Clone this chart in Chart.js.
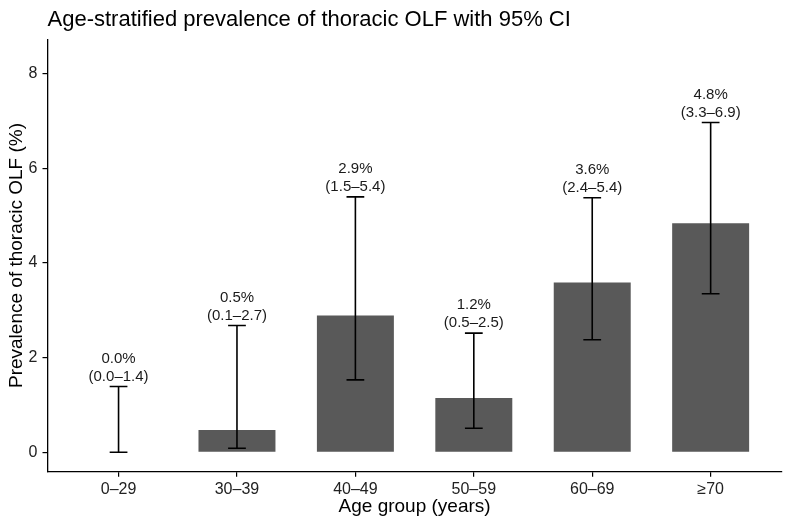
<!DOCTYPE html>
<html>
<head>
<meta charset="utf-8">
<script src="https://cdn.jsdelivr.net/npm/chart.js@4.4.1/dist/chart.umd.min.js"></script>
<style>
  html, body { margin: 0; padding: 0; background: #ffffff; }
  #wrap { width: 791px; height: 528px; position: relative; }
</style>
</head>
<body>
<div id="wrap"><canvas id="c" width="791" height="528"></canvas></div>
<script>
const categories = ['0–29', '30–39', '40–49', '50–59', '60–69', '≥70'];
const prevalence = [0.0, 0.47, 2.89, 1.15, 3.59, 4.84];
const ciLower = [0.0, 0.085, 1.53, 0.51, 2.38, 3.35];
const ciUpper = [1.39, 2.68, 5.40, 2.52, 5.38, 6.97];
const pctLabels = ['0.0%', '0.5%', '2.9%', '1.2%', '3.6%', '4.8%'];
const ciLabels = ['(0.0–1.4)', '(0.1–2.7)', '(1.5–5.4)', '(0.5–2.5)', '(2.4–5.4)', '(3.3–6.9)'];
const yTicks = [0, 2, 4, 6, 8];
const titleText = 'Age-stratified prevalence of thoracic OLF with 95% CI';
const xTitle = 'Age group (years)';
const yTitle = 'Prevalence of thoracic OLF (%)';

const FONT = '"Liberation Sans", Arial, "DejaVu Sans", sans-serif';

const errorBarPlugin = {
  id: 'errorBars',
  afterDatasetsDraw(chart) {
    const ctx = chart.ctx;
    const xs = chart.scales.x, ys = chart.scales.y;
    ctx.save();
    ctx.strokeStyle = '#000000';
    ctx.lineWidth = 1.6;
    ctx.lineCap = 'butt';
    for (let i = 0; i < categories.length; i++) {
      const xc = xs.getPixelForValue(i + 1);
      const xl = xs.getPixelForValue(i + 1 - 0.075);
      const xr = xs.getPixelForValue(i + 1 + 0.075);
      const yl = ys.getPixelForValue(ciLower[i]);
      const yu = ys.getPixelForValue(ciUpper[i]);
      ctx.beginPath();
      ctx.moveTo(xc, yl); ctx.lineTo(xc, yu);
      ctx.moveTo(xl, yl); ctx.lineTo(xr, yl);
      ctx.moveTo(xl, yu); ctx.lineTo(xr, yu);
      ctx.stroke();
      ctx.fillStyle = '#1a1a1a';
      ctx.font = '15px ' + FONT;
      ctx.textAlign = 'center';
      ctx.textBaseline = 'alphabetic';
      ctx.fillText(ciLabels[i], xc, yu - 6);
      ctx.fillText(pctLabels[i], xc, yu - 24);
    }
    ctx.fillStyle = '#000000';
    ctx.font = '22px ' + FONT;
    ctx.textAlign = 'left';
    ctx.fillText(titleText, chart.chartArea.left, 26);
    ctx.restore();
  }
};

new Chart(document.getElementById('c'), {
  type: 'bar',
  data: {
    datasets: [{
      data: prevalence.map((v, i) => ({ x: i + 1, y: v })),
      backgroundColor: '#595959',
      borderWidth: 0,
      barPercentage: 0.65,
      categoryPercentage: 1.0
    }]
  },
  options: {
    responsive: false,
    animation: false,
    events: [],
    layout: { padding: { top: 39.3, right: 9.3, bottom: 0, left: 0 } },
    plugins: { legend: { display: false }, tooltip: { enabled: false }, title: { display: false } },
    scales: {
      x: {
        type: 'linear',
        offset: false,
        min: 0.4,
        max: 6.6,
        afterBuildTicks: s => { s.ticks = categories.map((c, i) => ({ value: i + 1 })); },
        afterFit: s => { s.height = 528 - 471.7; },
        grid: { display: true, offset: false, drawOnChartArea: false, drawTicks: true, tickLength: 5, color: '#000000', lineWidth: 1.2 },
        border: { display: true, color: '#000000', width: 1.3 },
        ticks: {
          padding: 3,
          color: '#222222',
          font: { family: FONT, size: 16 },
          maxRotation: 0,
          autoSkip: false,
          callback: v => categories[Math.round(v) - 1]
        },
        title: { display: true, text: xTitle, color: '#000000', font: { family: FONT, size: 19 }, padding: { top: 0, bottom: 9.6 } }
      },
      y: {
        min: -0.41,
        max: 8.73,
        afterBuildTicks: s => { s.ticks = yTicks.map(v => ({ value: v })); },
        afterFit: s => { s.width = 47.5; },
        grid: { display: true, drawOnChartArea: false, drawTicks: true, tickLength: 5, color: '#000000', lineWidth: 1.2 },
        border: { display: true, color: '#000000', width: 1.3 },
        ticks: {
          padding: 5,
          color: '#222222',
          font: { family: FONT, size: 16 },
          callback: v => String(v)
        },
        title: { display: true, text: yTitle, color: '#000000', font: { family: FONT, size: 19 }, padding: { top: 5.5, bottom: 0 } }
      }
    }
  },
  plugins: [errorBarPlugin]
});
</script>
</body>
</html>
